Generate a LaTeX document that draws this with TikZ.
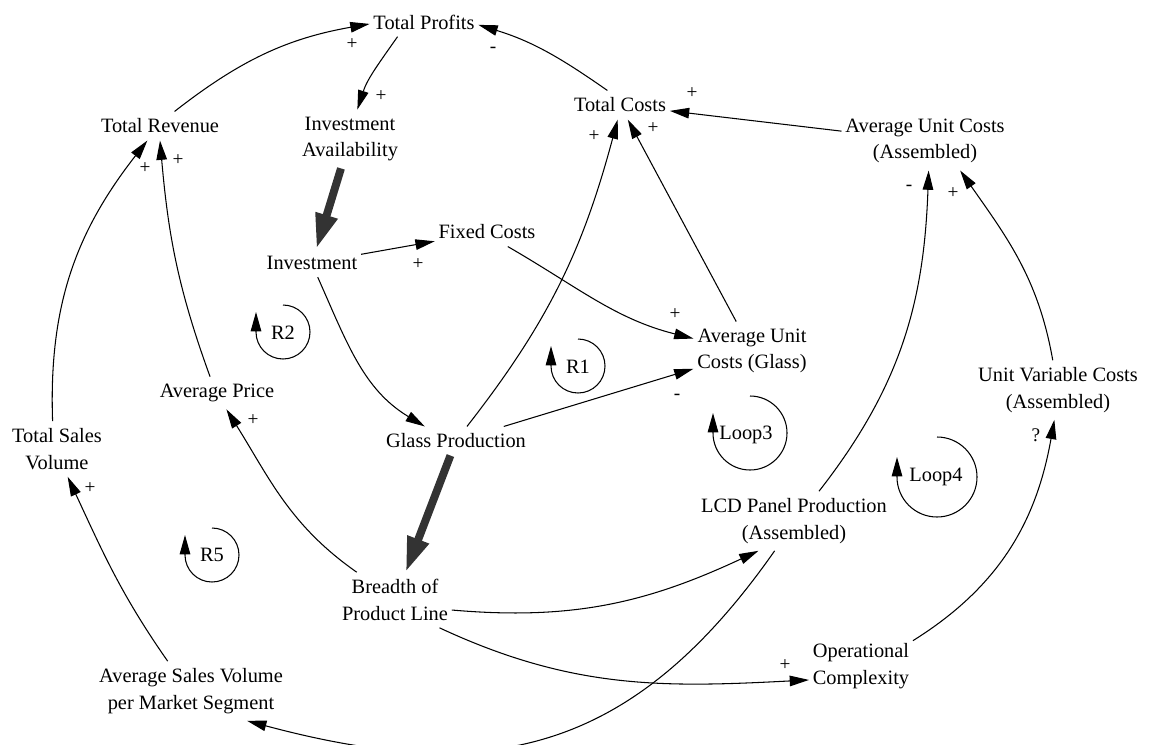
\documentclass[tikz,border=0pt]{standalone}
\usepackage{fontspec}
\setmainfont{Liberation Serif}
\usetikzlibrary{arrows.meta}
\begin{document}
\begin{tikzpicture}[x=0.02cm,y=0.02cm,
  var/.style={align=center,inner xsep=2pt,inner ysep=4pt,font=\fontsize{11.6}{15}\selectfont},
  sgn/.style={inner sep=0pt,font=\fontsize{11}{13}\selectfont},
  lnk/.style={line width=0.6pt,-{Triangle[length=11pt,width=6pt]}},
  biglnk/.style={line width=4.5pt,draw=black!80,-{Triangle[length=20pt,width=12pt]}},
  looptxt/.style={inner sep=0pt,font=\fontsize{11.6}{15}\selectfont}]
\useasboundingbox (0,0) rectangle (1149,-744);
% variables
\node[var] (prof) at (424,-22) {Total Profits};
\node[var] (rev) at (160,-126) {Total Revenue};
\node[var] (ia) at (350,-139) {Investment\\Availability};
\node[var] (inv) at (312,-263) {Investment};
\node[var] (fc) at (487,-232) {Fixed Costs};
\node[var] (tc) at (620,-105) {Total Costs};
\node[var] (aua) at (925,-141) {Average Unit Costs\\(Assembled)};
\node[var] (aug) at (752,-351) {Average Unit\\Costs (Glass)};
\node[var] (gp) at (456,-441) {Glass Production};
\node[var] (ap) at (217,-393) {Average Price};
\node[var] (tsv) at (57,-449) {Total Sales\\Volume};
\node[var] (bpl) at (395,-600) {Breadth of\\Product Line};
\node[var] (lcd) at (794,-521) {LCD Panel Production\\(Assembled)};
\node[var] (uvc) at (1058,-390) {Unit Variable Costs\\(Assembled)};
\node[var] (oc) at (861,-666) {Operational\\Complexity};
\node[var] (asv) at (191,-691) {Average Sales Volume\\per Market Segment};
% links
\draw[lnk] (rev.45) to[out=38,in=190] (prof.182);
\draw[lnk] (prof.209) to[out=235,in=72] (ia.76);
\draw[lnk] (tc.131) to[out=145,in=-17] (prof.-3);
\draw[lnk] (aua) -- (tc);
\draw[lnk] (gp.53) to[out=52,in=255] (tc.261);
\draw[lnk] (aug) -- (tc);
\draw[biglnk] (ia) -- (inv);
\draw[lnk] (inv) -- (fc);
\draw[lnk] (fc.-35) to[out=-30,in=166] (aug.168);
\draw[lnk] (inv.-68) to[out=-66,in=149] (gp.155);
\draw[lnk] (gp) -- (aug);
\draw[biglnk] (gp) -- (bpl);
\draw[lnk] (ap.113) to[out=110,in=-85] (rev.-90);
\draw[lnk] (tsv.99) to[out=92,in=232] (rev.229);
\draw[lnk] (bpl.144) to[out=145,in=-58] (ap.-60);
\draw[lnk] (asv.128) to[out=125,in=-65] (tsv.-69);
\draw[lnk] (bpl.-10) to[out=-5,in=205] (lcd.220);
\draw[lnk] (bpl.-32) to[out=-25,in=183] (oc.195);
\draw[lnk] (lcd.237) to[out=235,in=-15,looseness=1.15] (asv.-28);
\draw[lnk] (lcd.50) to[out=52,in=268] (aua.-83);
\draw[lnk] (uvc.100) to[out=100,in=-55] (aua.-40);
\draw[lnk] (oc.26) to[out=32,in=-100] (uvc.-97);
% polarity signs
\node[sgn] (s1) at (352,-44) {+};
\node[sgn] (s2) at (381,-96) {+};
\node[sgn] (s3) at (493,-50) {-};
\node[sgn] (s4) at (692,-93) {+};
\node[sgn] (s5) at (594,-136) {+};
\node[sgn] (s6) at (653,-128) {+};
\node[sgn] (s7) at (418,-264) {+};
\node[sgn] (s8) at (675,-314) {+};
\node[sgn] (s9) at (677,-397) {-};
\node[sgn] (s10) at (178,-160) {+};
\node[sgn] (s11) at (145,-168) {+};
\node[sgn] (s12) at (253,-420) {+};
\node[sgn] (s13) at (90,-488) {+};
\node[sgn] (s14) at (785,-665) {+};
\node[sgn] (s15) at (909,-188) {-};
\node[sgn] (s16) at (953,-193) {+};
\node[sgn] (s17) at (1036,-435) {?};
% loop markers
\node[looptxt] (r2) at (283,-333) {R2};
\draw[lnk] (283,-305) arc[start angle=90,end angle=-180,radius=27] -- ++(0,20);
\node[looptxt] (r1) at (578,-367) {R1};
\draw[lnk] (578,-339) arc[start angle=90,end angle=-180,radius=27] -- ++(0,20);
\node[looptxt] (r5) at (212,-555) {R5};
\draw[lnk] (212,-528) arc[start angle=90,end angle=-180,radius=27] -- ++(0,20);
\node[looptxt] (l3) at (746,-435) {Loop3};
\draw[lnk] (750,-396) arc[start angle=90,end angle=-180,radius=37] -- ++(0,20);
\node[looptxt] (l4) at (936,-477) {Loop4};
\draw[lnk] (937,-437) arc[start angle=90,end angle=-180,radius=40] -- ++(0,20);
\end{tikzpicture}
\end{document}
